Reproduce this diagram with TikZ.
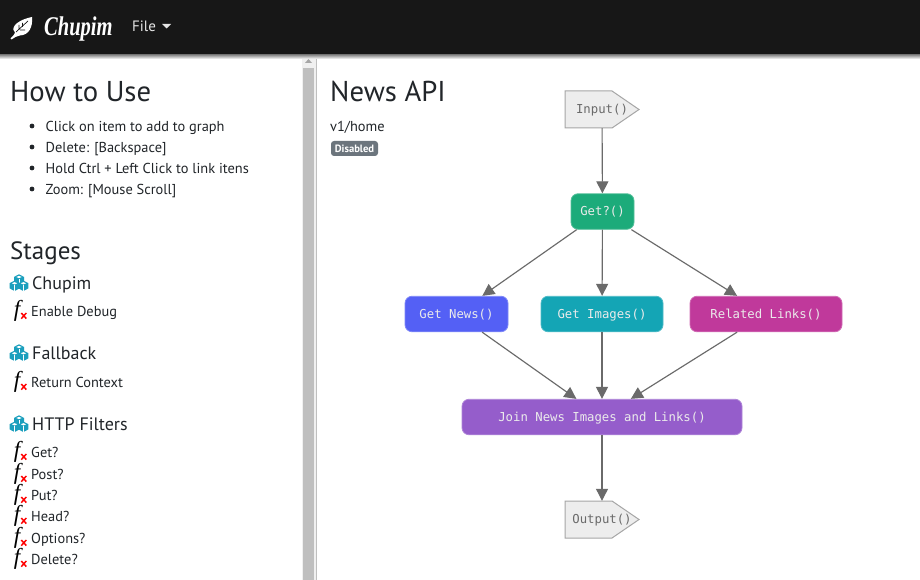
\documentclass[tikz,border=0pt]{standalone}
\usepackage{fontspec}
\setmainfont{PT Sans}
\newfontfamily\graphfont{DejaVu Sans Mono}
\newfontfamily\logofont{Liberation Serif}
\usetikzlibrary{arrows.meta}
\definecolor{navdark}{HTML}{171717}
\definecolor{bodyink}{HTML}{212529}
\definecolor{badgegray}{HTML}{6C757D}
\definecolor{cubeteal}{HTML}{1C9FBD}
\definecolor{linegray}{HTML}{6A6A6A}
\definecolor{getgreen}{HTML}{1CAB7A}
\definecolor{newsblue}{HTML}{5460F5}
\definecolor{imagesteal}{HTML}{14A5B5}
\definecolor{linkspink}{HTML}{C0399B}
\definecolor{joinpurple}{HTML}{955DCB}
\tikzset{
	bigtitle/.style={anchor=base west,inner sep=0pt,text=bodyink,font=\fontsize{28.7}{32}\selectfont},
	midtitle/.style={anchor=base west,inner sep=0pt,text=bodyink,font=\fontsize{25}{30}\selectfont},
	stagetitle/.style={anchor=base west,inner sep=0pt,text=bodyink,font=\fontsize{18}{20}\selectfont},
	helptext/.style={anchor=base west,inner sep=0pt,text=bodyink,font=\fontsize{14.4}{18}\selectfont},
	itemtext/.style={anchor=base west,inner sep=0pt,text=bodyink,font=\fontsize{14.4}{18}\selectfont},
	flowbox/.style={rounded corners=7pt,line width=0.8pt,minimum height=35.5pt,text height=9.5pt,text depth=1.5pt,text=white!92!black,font=\graphfont\fontsize{12.3}{14}\selectfont},
	sigbox/.style={minimum width=74pt,minimum height=37pt,inner sep=0pt,text height=9.5pt,text depth=1.5pt,text=linegray,font=\graphfont\fontsize{12.3}{14}\selectfont},
	sigline/.style={draw=black!35,fill=black!7,line width=1pt},
	flowline/.style={draw=linegray,line width=1.15pt,-{Triangle[width=12pt,length=12pt]}},
}
% stage heading icon, three small cubes
\def\cubeone#1#2{
	\fill[cubeteal] (#1-5,#2-2.6) -- (#1,#2-5.2) -- (#1+5,#2-2.6) -- (#1+5,#2+2.6) -- (#1,#2+5.2) -- (#1-5,#2+2.6) -- cycle;
	\fill[white] (#1-2.6,#2-2.5) -- (#1,#2-3.7) -- (#1+2.6,#2-2.5) -- (#1,#2-1.3) -- cycle;
	\draw[white,line width=0.5pt] (#1,#2-0.4) -- (#1,#2+5);
}
\def\cubesicon#1{
	\cubeone{19}{#1-3.5}
	\cubeone{14.6}{#1+2.8}
	\cubeone{23.4}{#1+2.8}
}
% function item, #1 name #2 baseline #3 text
\def\fxitem#1#2#3{
	\node[anchor=base,inner sep=0pt,font=\logofont\itshape\fontsize{23}{23}\selectfont,text=black] (#1icon) at (17,#2) {f};
	\draw[red,line width=1.5pt] (21.3,#2-3) -- (26.3,#2+2.6) (26.3,#2-3) -- (21.3,#2+2.6);
	\node[itemtext] (#1) at (31,#2) {#3};
}
% pentagon box, #1 name #2 centre y #3 text
\def\signode#1#2#3{
	\draw[sigline] (565,#2-18.5) -- (612,#2-18.5) -- (639,#2) -- (612,#2+18.5) -- (565,#2+18.5) -- cycle;
	\node[sigbox] (#1) at (602,#2) {#3};
}
\begin{document}
\begin{tikzpicture}[x=1pt,y=-1pt]
	%%%%% START %%%%%
	\useasboundingbox (0,0) rectangle (920,580);
	\fill[white] (0,0) rectangle (920,580);

	% top bar
	\shade[top color=black!55,bottom color=white] (0,54) rectangle (920,59);
	\fill[navdark] (0,0) rectangle (920,54);
	\fill[white] (10.5,38.5) .. controls (14,35) and (15,33.5) .. (15,32.5) .. controls (11,30) and (13,21) .. (32,17) .. controls (33,27) and (29,35) .. (20,35.5) .. controls (17,36) and (14,37.5) .. (11.5,39.5) -- cycle;
	\draw[navdark,line width=0.7pt] (16,32) -- (28,21) (19,30) -- (19,25) (22.5,27) -- (22.5,23) (20,30) -- (25,30);
	\node[anchor=base west,inner sep=0pt,text=white,font=\logofont\bfseries\itshape\fontsize{27}{28}\selectfont] (logo) at (44,36) {\scalebox{0.76}[1]{Chupim}};
	\node[anchor=base west,inner sep=0pt,text=white!90!black,font=\fontsize{15}{18}\selectfont] (filemenu) at (132,32) {File};
	\fill[white!90!black] (162,24) -- (171,24) -- (166.5,28.5) -- cycle;

	% scroll bar of the left panel
	\fill[black!6] (301.5,59) rectangle (315.5,580);
	\fill[black!25] (303,68) rectangle (314.3,580);
	\fill[black!35] (305,63) -- (312,63) -- (308.5,59) -- cycle;
	\draw[black!25,line width=0.8pt] (316.5,59) -- (316.5,580);

	% how to use
	\node[bigtitle] (howto) at (10,102) {How to Use};
	\foreach \ybul/\txt [count=\i] in {126/Click on item to add to graph,147/{Delete: [Backspace]},168/Hold Ctrl + Left Click to link itens,189/{Zoom: [Mouse Scroll]}}{
		\fill[bodyink] (32,\ybul) circle (2.4);
		\node[helptext] (help\i) at (45.5,\ybul+5.5) {\txt};
	}

	% stages
	\node[midtitle] (stages) at (10,259) {Stages};

	\cubesicon{283}
	\node[stagetitle] (chupim) at (32,289) {Chupim};
	\fxitem{debug}{316}{Enable Debug}

	\cubesicon{353}
	\node[stagetitle] (fallback) at (32,359) {Fallback};
	\fxitem{context}{387}{Return Context}

	\cubesicon{424}
	\node[stagetitle] (filters) at (32,430) {HTTP Filters};
	\fxitem{itemget}{457}{Get?}
	\fxitem{itempost}{479}{Post?}
	\fxitem{itemput}{500}{Put?}
	\fxitem{itemhead}{521}{Head?}
	\fxitem{itemoptions}{543}{Options?}
	\fxitem{itemdelete}{564}{Delete?}

	% graph title
	\node[bigtitle] (newsapi) at (330,102) {News API};
	\node[helptext] (route) at (330,131.5) {v1/home};
	\node[rounded corners=3pt,fill=badgegray,minimum width=47pt,minimum height=15pt,inner sep=0pt,text=white,font=\bfseries\fontsize{10.6}{12}\selectfont] (badge) at (354.5,148.5) {Disabled};

	% graph
	\signode{input}{109.5}{Input()}
	\signode{output}{519.5}{Output()}
	\node[flowbox,fill=getgreen,draw=getgreen!75!white,minimum width=63pt] (get) at (602.5,211.5) {Get?()};
	\node[flowbox,fill=newsblue,draw=newsblue!75!white,minimum width=103pt] (news) at (456.5,314) {Get News()};
	\node[flowbox,fill=imagesteal,draw=imagesteal!75!white,minimum width=122pt] (images) at (602,314) {Get Images()};
	\node[flowbox,fill=linkspink,draw=linkspink!75!white,minimum width=152pt] (links) at (766,314) {Related Links()};
	\node[flowbox,fill=joinpurple,draw=joinpurple!75!white,minimum width=280pt] (join) at (602,417) {Join News Images and Links()};

	\draw[flowline] (input) -- (get);
	\draw[flowline] (get) -- (news);
	\draw[flowline] (get) -- (images);
	\draw[flowline] (get) -- (links);
	\draw[flowline] (news) -- (join);
	\draw[flowline] (images) -- (join);
	\draw[flowline] (links) -- (join);
	\draw[flowline] (join) -- (output);
	%%%%% END %%%%%
\end{tikzpicture}
\end{document}
